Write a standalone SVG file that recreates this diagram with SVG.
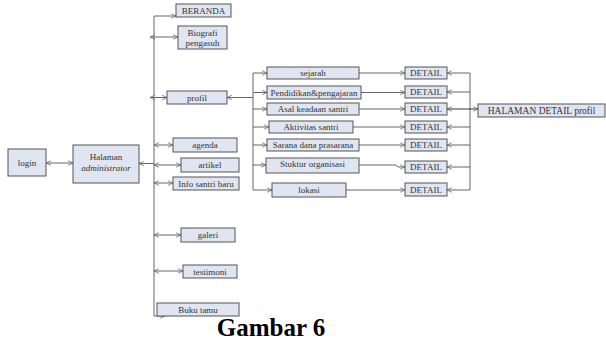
<svg xmlns="http://www.w3.org/2000/svg" width="606" height="341" viewBox="0 0 606 341">
<style>
.b{fill:#dfe6f2;stroke:#555;stroke-width:1}
.t{font-family:"Liberation Serif","Times New Roman",serif;font-size:9px;fill:#333;text-anchor:middle}
.c line,.c polyline{stroke:#666;stroke-width:1;fill:none}
</style>
<defs>
<marker id="a" viewBox="0 0 8 8" refX="7.5" refY="4" markerWidth="6" markerHeight="6" orient="auto-start-reverse" markerUnits="userSpaceOnUse">
<polyline points="1,1 7.5,4 1,7" fill="none" stroke="#666" stroke-width="1"/>
</marker>
</defs>
<rect width="606" height="341" fill="#fff"/>
<g class="c" id="connectors">
<line x1="154" y1="16" x2="154" y2="316"/>
<line x1="154" y1="16" x2="176" y2="16" marker-end="url(#a)"/>
<line x1="150" y1="37" x2="178" y2="37" marker-start="url(#a)" marker-end="url(#a)"/>
<line x1="150" y1="97.5" x2="167" y2="97.5" marker-start="url(#a)" marker-end="url(#a)"/>
<line x1="154" y1="145" x2="173" y2="145" marker-start="url(#a)" marker-end="url(#a)"/>
<line x1="46" y1="163" x2="73" y2="163" marker-start="url(#a)" marker-end="url(#a)"/>
<line x1="139" y1="163.5" x2="154" y2="163.5" marker-start="url(#a)"/>
<line x1="154" y1="165" x2="181" y2="165" marker-start="url(#a)" marker-end="url(#a)"/>
<line x1="154" y1="183" x2="173" y2="183" marker-start="url(#a)" marker-end="url(#a)"/>
<line x1="154" y1="235" x2="181" y2="235" marker-start="url(#a)" marker-end="url(#a)"/>
<line x1="154" y1="271" x2="183" y2="271" marker-start="url(#a)" marker-end="url(#a)"/>
<line x1="154" y1="316" x2="165" y2="316" marker-end="url(#a)"/>
<line x1="253" y1="97.5" x2="227" y2="97.5" marker-end="url(#a)"/>
<line x1="253" y1="73" x2="253" y2="190"/>
<line x1="253" y1="73" x2="267" y2="73" marker-end="url(#a)"/>
<line x1="253" y1="92.5" x2="267" y2="92.5" marker-end="url(#a)"/>
<line x1="253" y1="109" x2="267" y2="109" marker-end="url(#a)"/>
<line x1="253" y1="127" x2="269" y2="127" marker-end="url(#a)"/>
<line x1="253" y1="145" x2="267" y2="145" marker-end="url(#a)"/>
<line x1="253" y1="165" x2="266" y2="165" marker-end="url(#a)"/>
<line x1="253" y1="190" x2="272" y2="190" marker-end="url(#a)"/>
<line x1="359" y1="73" x2="405" y2="73" marker-end="url(#a)"/>
<line x1="361" y1="92.5" x2="405" y2="92.5" marker-end="url(#a)"/>
<line x1="359" y1="109" x2="405" y2="109" marker-end="url(#a)"/>
<line x1="353" y1="127" x2="405" y2="127" marker-end="url(#a)"/>
<line x1="359" y1="145" x2="405" y2="145" marker-end="url(#a)"/>
<polyline points="359,165 396,165 398,167 405,167" marker-end="url(#a)"/>
<line x1="346" y1="190" x2="405" y2="190" marker-end="url(#a)"/>
<line x1="470" y1="73" x2="470" y2="190"/>
<line x1="470" y1="73" x2="447" y2="73" marker-end="url(#a)"/>
<line x1="470" y1="92" x2="447" y2="92" marker-end="url(#a)"/>
<line x1="470" y1="127" x2="447" y2="127" marker-end="url(#a)"/>
<line x1="470" y1="145" x2="447" y2="145" marker-end="url(#a)"/>
<line x1="470" y1="167" x2="447" y2="167" marker-end="url(#a)"/>
<line x1="470" y1="190" x2="447" y2="190" marker-end="url(#a)"/>
<line x1="447" y1="109" x2="478" y2="109" style="stroke:#333" marker-start="url(#a)" marker-end="url(#a)"/>
</g>
<g id="login"><rect class="b" x="8" y="149" width="38" height="27"/><text class="t" x="27" y="166">login</text></g>
<g id="admin"><rect class="b" x="73" y="145" width="66" height="38"/><text class="t" x="106" y="160">Halaman</text><text class="t" x="106" y="171" font-style="italic">administrator</text></g>
<g id="beranda"><rect class="b" x="176" y="4" width="55" height="13"/><text class="t" x="203.5" y="13.5">BERANDA</text></g>
<g id="biografi"><rect class="b" x="178" y="26" width="49" height="23"/><text class="t" x="202.5" y="35.5">Biografi</text><text class="t" x="202.5" y="45.5">pengasuh</text></g>
<g id="profil"><rect class="b" x="167" y="91" width="60" height="13"/><text class="t" x="197" y="100.5">profil</text></g>
<g id="agenda"><rect class="b" x="173" y="138" width="64" height="14"/><text class="t" x="205" y="148">agenda</text></g>
<g id="artikel"><rect class="b" x="181" y="158" width="58" height="14"/><text class="t" x="210" y="168">artikel</text></g>
<g id="info"><rect class="b" x="173" y="177" width="66" height="13"/><text class="t" x="206" y="186.5">Info santri baru</text></g>
<g id="galeri"><rect class="b" x="181" y="228" width="54" height="14"/><text class="t" x="208" y="238">galeri</text></g>
<g id="testimoni"><rect class="b" x="183" y="265" width="54" height="13"/><text class="t" x="210" y="274.5">testimoni</text></g>
<g id="bukutamu"><rect class="b" x="157" y="303" width="82" height="13"/><text class="t" x="198" y="312.5">Buku tamu</text></g>
<g id="sejarah"><rect class="b" x="267" y="67" width="92" height="12"/><text class="t" x="313" y="76">sejarah</text></g>
<g id="pendidikan"><rect class="b" x="267" y="86" width="94" height="13"/><text class="t" x="314" y="95.5">Pendidikan&amp;pengajaran</text></g>
<g id="asal"><rect class="b" x="267" y="103" width="92" height="12"/><text class="t" x="313" y="112">Asal keadaan santri</text></g>
<g id="aktivitas"><rect class="b" x="269" y="121" width="84" height="12"/><text class="t" x="311" y="130">Aktivitas santri</text></g>
<g id="sarana"><rect class="b" x="267" y="139" width="92" height="12"/><text class="t" x="313" y="148">Sarana dana prasarana</text></g>
<g id="struktur"><rect class="b" x="266" y="158" width="93" height="15"/><text class="t" x="312.5" y="166.5">Stuktur organisasi</text></g>
<g id="lokasi"><rect class="b" x="272" y="183" width="74" height="14"/><text class="t" x="309" y="193">lokasi</text></g>
<g id="d1"><rect class="b" x="405" y="67" width="42" height="12"/><text class="t" x="426" y="76">DETAIL</text></g>
<g id="d2"><rect class="b" x="405" y="86" width="42" height="12"/><text class="t" x="426" y="95">DETAIL</text></g>
<g id="d3"><rect class="b" x="405" y="103" width="42" height="12"/><text class="t" x="426" y="112">DETAIL</text></g>
<g id="d4"><rect class="b" x="405" y="121" width="42" height="12"/><text class="t" x="426" y="130">DETAIL</text></g>
<g id="d5"><rect class="b" x="405" y="139" width="42" height="12"/><text class="t" x="426" y="148">DETAIL</text></g>
<g id="d6"><rect class="b" x="405" y="161" width="42" height="12"/><text class="t" x="426" y="170">DETAIL</text></g>
<g id="d7"><rect class="b" x="405" y="183" width="42" height="13"/><text class="t" x="426" y="192.5">DETAIL</text></g>
<g id="halamandetail"><rect class="b" x="478" y="104" width="127" height="13"/><text class="t" x="541.5" y="113.5" style="font-size:9.5px">HALAMAN DETAIL profil</text></g>
<text x="271" y="336" style="font-family:'Liberation Serif','Times New Roman',serif;font-size:25px;font-weight:bold;text-anchor:middle;fill:#000">Gambar 6</text>
</svg>
